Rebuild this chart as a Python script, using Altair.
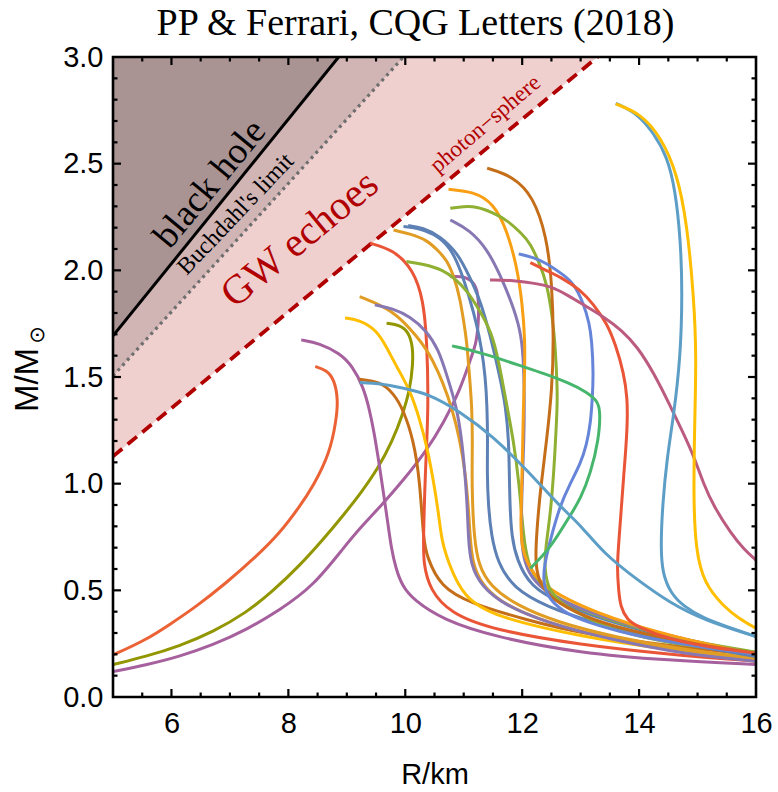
import altair as alt
import pandas as pd

# plot-area size in pixels
W, H = 643, 640

x_scale = alt.Scale(domain=[5, 16], nice=False, zero=False)
y_scale = alt.Scale(domain=[0, 3], nice=False, zero=False)

# ---- compactness limits: end points (R/km, M/Msun) of each boundary line ----
bh_R = [5.0, 8.86]
bh_M = [1.693, 3.0]
bu_R = [5.0, 9.97]
bu_M = [1.505, 3.0]
ps_R = [5.0, 13.29]
ps_M = [1.128, 3.0]
top_M = [3.0, 3.0]

# ---- mass-radius curves (R in km, M in solar masses) ----
sqm1_R = [8.46, 8.65, 8.79, 8.85, 8.82, 8.71, 8.42, 8.19, 7.85, 7.45, 6.93, 6.42, 5.96, 5.56, 5.0]
sqm1_M = [1.549, 1.533, 1.486, 1.392, 1.299, 1.143, 0.986, 0.892, 0.767, 0.658, 0.533, 0.423, 0.338, 0.267, 0.197]

sqm2_R = [9.68, 9.91, 10.06, 10.13, 10.13, 10.08, 9.95, 9.78, 9.53, 9.25, 8.95, 8.6, 8.19, 7.73, 7.28, 6.71, 6.13, 5.56, 5.0]
sqm2_M = [1.752, 1.744, 1.71, 1.64, 1.56, 1.44, 1.32, 1.2, 1.07, 0.96, 0.855, 0.74, 0.615, 0.495, 0.395, 0.305, 0.238, 0.19, 0.152]

sqm3_R = [10.77, 10.99, 11.17, 11.25, 11.26, 11.22, 11.11, 10.94, 10.65, 10.37, 9.97, 9.57, 9.22, 8.99, 8.42, 7.85, 7.28, 6.71, 6.13, 5.56, 5.0]
sqm3_M = [1.970, 1.974, 1.947, 1.893, 1.783, 1.658, 1.58, 1.44, 1.283, 1.158, 1.017, 0.892, 0.79, 0.715, 0.517, 0.408, 0.314, 0.244, 0.189, 0.15, 0.119]

pu1_R = [8.22, 8.53, 8.88, 9.10, 9.28, 9.39, 9.46, 9.55, 9.63, 9.71, 9.76, 9.84, 9.95, 10.14, 10.65, 11.51, 13.0, 14.5, 16.0]
pu1_M = [1.674, 1.658, 1.611, 1.549, 1.455, 1.345, 1.25, 1.1, 0.95, 0.8, 0.7, 0.6, 0.52, 0.455, 0.361, 0.283, 0.205, 0.172, 0.152]

ye1_R = [8.97, 9.22, 9.51, 9.68, 9.85, 10.08, 10.25, 10.37, 10.48, 10.57, 10.62, 10.74, 10.99, 11.51, 13.0, 14.5, 16.0]
ye1_M = [1.777, 1.767, 1.72, 1.64, 1.549, 1.44, 1.299, 1.174, 1.017, 0.861, 0.736, 0.627, 0.47, 0.377, 0.283, 0.22, 0.18]

re1_R = [9.40, 9.80, 10.14, 10.31, 10.37, 10.40, 10.34, 10.31, 10.31, 10.42, 10.77, 11.51, 13.0, 14.5, 16.0]
re1_M = [2.127, 2.096, 2.002, 1.861, 1.674, 1.361, 1.049, 0.736, 0.627, 0.502, 0.392, 0.314, 0.244, 0.2, 0.168]

br1_R = [9.22, 9.57, 9.80, 9.97, 10.14, 10.25, 10.31, 10.37, 10.60, 11.11, 12.08, 13.0, 14.5, 16.0]
br1_M = [1.489, 1.478, 1.424, 1.345, 1.205, 1.017, 0.736, 0.658, 0.517, 0.439, 0.361, 0.298, 0.24, 0.197]

or1_R = [9.22, 9.80, 10.2, 10.45, 10.82, 11.05, 11.11, 11.15, 11.3, 11.6, 12.2, 13.2, 14.6, 16.0]
or1_M = [1.877, 1.814, 1.69, 1.6, 1.361, 1.049, 0.736, 0.63, 0.53, 0.45, 0.37, 0.29, 0.225, 0.178]

pu2_R = [9.48, 9.8, 10.08, 10.35, 10.57, 10.72, 10.88, 10.97, 11.02, 11.06, 11.08, 11.12, 11.3, 11.7, 12.4, 13.5, 14.8, 16.0]
pu2_M = [1.838, 1.82, 1.783, 1.72, 1.63, 1.5, 1.36, 1.2, 1.05, 0.9, 0.74, 0.62, 0.52, 0.43, 0.35, 0.27, 0.2, 0.168]

or2_R = [9.80, 10.1, 10.37, 10.57, 10.71, 10.85, 10.94, 11.0, 11.05, 11.1, 11.14, 11.15, 11.14, 11.15, 11.18, 11.25, 11.45, 11.9, 12.6, 13.6, 14.8, 16.0]
or2_M = [2.189, 2.17, 2.142, 2.09, 2.049, 1.96, 1.861, 1.76, 1.674, 1.5, 1.361, 1.2, 1.049, 0.9, 0.75, 0.62, 0.52, 0.43, 0.35, 0.28, 0.22, 0.182]

bl1_R = [9.97, 10.2, 10.48, 10.77, 10.95, 11.11, 11.22, 11.31, 11.37, 11.40, 11.41, 11.40, 11.42, 11.47, 11.58, 11.85, 12.42, 13.2, 14.5, 16.0]
bl1_M = [2.205, 2.2, 2.174, 2.111, 2.0, 1.861, 1.75, 1.627, 1.5, 1.361, 1.2, 1.049, 0.9, 0.76, 0.63, 0.51, 0.423, 0.35, 0.26, 0.19]

bl2_R = [10.05, 10.3, 10.6, 10.9, 11.1, 11.28, 11.45, 11.62, 11.72, 11.77, 11.78, 11.79, 11.82, 11.91, 12.14, 12.65, 13.4, 14.6, 16.0]
bl2_M = [2.21, 2.2, 2.16, 2.08, 1.97, 1.861, 1.7, 1.5, 1.361, 1.2, 1.049, 0.9, 0.75, 0.642, 0.517, 0.439, 0.36, 0.27, 0.2]

gr1_R = [10.02, 10.3, 10.65, 10.85, 11.05, 11.3, 11.51, 11.65, 11.74, 11.85, 11.95, 12.02, 12.1, 12.3, 12.8, 13.6, 14.7, 16.0]
gr1_M = [2.041, 2.03, 2.002, 1.96, 1.908, 1.8, 1.689, 1.5, 1.361, 1.205, 1.0, 0.752, 0.62, 0.52, 0.43, 0.35, 0.27, 0.21]

pu3_R = [10.77, 11.1, 11.4, 11.62, 11.82, 11.97, 12.02, 12.04, 12.03, 12.0, 11.98, 12.0, 12.1, 12.35, 12.9, 13.8, 14.9, 16.0]
pu3_M = [2.236, 2.19, 2.1, 1.98, 1.85, 1.72, 1.6, 1.4, 1.2, 1.0, 0.8, 0.68, 0.58, 0.5, 0.42, 0.34, 0.26, 0.2]

or3_R = [10.74, 11.17, 11.51, 11.74, 11.91, 12.0, 12.05, 12.04, 12.02, 12.0, 11.97, 12.0, 12.08, 12.31, 12.77, 13.5, 14.6, 16.0]
or3_M = [2.38, 2.369, 2.315, 2.189, 2.017, 1.85, 1.674, 1.5, 1.361, 1.049, 0.8, 0.7, 0.627, 0.533, 0.455, 0.37, 0.28, 0.2]

gr2_R = [10.77, 11.0, 11.22, 11.5, 11.74, 12.0, 12.14, 12.3, 12.42, 12.52, 12.57, 12.60, 12.60, 12.57, 12.54, 12.48, 12.40, 12.38, 12.45, 12.7, 13.0, 13.39, 14.0, 14.54, 15.3, 16.0]
gr2_M = [2.291, 2.3, 2.299, 2.27, 2.236, 2.17, 2.127, 2.03, 1.94, 1.78, 1.627, 1.45, 1.361, 1.2, 1.049, 0.85, 0.7, 0.6, 0.5, 0.43, 0.39, 0.33, 0.285, 0.252, 0.228, 0.21]

br2_R = [11.40, 11.85, 12.19, 12.42, 12.51, 12.54, 12.51, 12.42, 12.31, 12.25, 12.22, 12.3, 12.6, 13.2, 14.0, 15.0, 16.0]
br2_M = [2.479, 2.44, 2.346, 2.158, 1.94, 1.674, 1.44, 1.205, 0.97, 0.78, 0.627, 0.52, 0.44, 0.36, 0.3, 0.245, 0.205]

bl3_R = [11.94, 12.2, 12.42, 12.7, 12.88, 13.05, 13.15, 13.19, 13.22, 13.2, 13.17, 13.1, 13.0, 12.82, 12.65, 12.48, 12.38, 12.36, 12.42, 12.7, 13.0, 13.6, 14.5, 16.0]
bl3_M = [2.077, 2.06, 2.033, 1.98, 1.94, 1.846, 1.75, 1.674, 1.517, 1.4, 1.283, 1.18, 1.096, 1.0, 0.9, 0.736, 0.62, 0.549, 0.47, 0.4, 0.361, 0.31, 0.255, 0.2]

re2_R = [12.14, 12.4, 12.65, 13.0, 13.22, 13.45, 13.6, 13.74, 13.8, 13.80, 13.77, 13.74, 13.70, 13.66, 13.62, 13.65, 13.68, 13.8, 13.97, 14.54, 15.3, 16.0]
re2_M = [2.036, 2.0, 1.97, 1.908, 1.84, 1.752, 1.65, 1.517, 1.4, 1.283, 1.15, 1.049, 0.9, 0.75, 0.611, 0.5, 0.423, 0.36, 0.33, 0.267, 0.23, 0.205]

gr3_R = [10.8, 11.2, 11.51, 12.0, 12.37, 12.82, 13.1, 13.28, 13.34, 13.31, 13.17, 13.0, 12.82, 12.65, 12.45, 12.14]
gr3_M = [1.646, 1.62, 1.595, 1.55, 1.517, 1.47, 1.43, 1.39, 1.345, 1.205, 1.049, 0.93, 0.85, 0.775, 0.69, 0.603]

ro1_R = [11.45, 11.8, 12.19, 12.5, 12.8, 13.1, 13.39, 13.7, 13.97, 14.25, 14.54, 14.75, 14.94, 15.1, 15.28, 15.57, 15.8, 16.0]
ro1_M = [1.955, 1.955, 1.94, 1.925, 1.88, 1.83, 1.783, 1.72, 1.642, 1.52, 1.361, 1.24, 1.127, 1.0, 0.892, 0.767, 0.69, 0.642]

lb2_R = [13.6, 13.97, 14.25, 14.48, 14.62, 14.71, 14.74, 14.71, 14.59, 14.48, 14.40, 14.37, 14.40, 14.54, 14.77, 15.1, 15.5, 16.0]
lb2_M = [2.783, 2.736, 2.643, 2.533, 2.377, 2.142, 1.9, 1.595, 1.314, 1.127, 0.9, 0.7, 0.58, 0.486, 0.423, 0.37, 0.33, 0.283]

ye2_R = [13.6, 14.02, 14.37, 14.65, 14.82, 14.94, 14.98, 14.95, 14.93, 14.97, 15.11, 15.45, 15.7, 16.0]
ye2_M = [2.78, 2.736, 2.627, 2.455, 2.221, 1.861, 1.595, 1.283, 0.924, 0.689, 0.533, 0.423, 0.37, 0.322]

lb1_R = [9.22, 9.57, 9.97, 10.37, 10.94, 11.51, 12.08, 12.65, 13.0, 13.39, 13.97, 14.54, 15.11, 16.0]
lb1_M = [1.474, 1.47, 1.447, 1.424, 1.338, 1.22, 1.064, 0.892, 0.806, 0.674, 0.549, 0.439, 0.361, 0.283]

curves = [
    ("sqm1", "#EB6235", sqm1_R, sqm1_M),
    ("sqm2", "#929600", sqm2_R, sqm2_M),
    ("sqm3", "#A5609D", sqm3_R, sqm3_M),
    ("pu1", "#A5609D", pu1_R, pu1_M),
    ("br1", "#C56E1A", br1_R, br1_M),
    ("re1", "#E95536", re1_R, re1_M),
    ("ye1", "#FFBF00", ye1_R, ye1_M),
    ("or1", "#E19C24", or1_R, or1_M),
    ("pu2", "#8778B3", pu2_R, pu2_M),
    ("or2", "#E19C24", or2_R, or2_M),
    ("bl1", "#5E81B5", bl1_R, bl1_M),
    ("bl2", "#5E81B5", bl2_R, bl2_M),
    ("gr1", "#8FB032", gr1_R, gr1_M),
    ("pu3", "#8778B3", pu3_R, pu3_M),
    ("or3", "#F89F13", or3_R, or3_M),
    ("gr2", "#8FB032", gr2_R, gr2_M),
    ("br2", "#C56E1A", br2_R, br2_M),
    ("bl3", "#6685D9", bl3_R, bl3_M),
    ("re2", "#E95536", re2_R, re2_M),
    ("gr3", "#47B66D", gr3_R, gr3_M),
    ("ro1", "#BC5B80", ro1_R, ro1_M),
    ("lb2", "#5D9EC7", lb2_R, lb2_M),
    ("ye2", "#FFBF00", ye2_R, ye2_M),
    ("lb1", "#5D9EC7", lb1_R, lb1_M),
]

# ---- tick positions ----
x_major = [6, 8, 10, 12, 14]
x_minor = [5.5, 6.5, 7, 7.5, 8.5, 9, 9.5, 10.5, 11, 11.5, 12.5, 13, 13.5, 14.5, 15, 15.5]
y_major = [0.5, 1.0, 1.5, 2.0, 2.5]
y_minor = [0.1, 0.2, 0.3, 0.4, 0.6, 0.7, 0.8, 0.9, 1.1, 1.2, 1.3, 1.4, 1.6, 1.7, 1.8, 1.9,
           2.1, 2.2, 2.3, 2.4, 2.6, 2.7, 2.8, 2.9]
x_labels = [6, 8, 10, 12, 14, 16]
y_labels = [0.0, 0.5, 1.0, 1.5, 2.0, 2.5, 3.0]

# ---- annotations (centre position in data units) ----
notes = [
    # text, R, M, angle, size, colour
    ("black hole", 6.66, 2.405, 309.5, 37, "black"),
    ("Buchdahl's limit", 7.10, 2.263, 313.5, 24, "black"),
    ("GW echoes", 8.20, 2.145, 320.5, 41, "#B00000"),
    ("photon\u2212sphere", 11.37, 2.686, 319.5, 23, "#B00000"),
]

TITLE = "PP & Ferrari, CQG Letters (2018)"
SERIF = "Liberation Serif"
SANS = "Liberation Sans"

x_axis = alt.Axis(values=x_labels, title="R/km", ticks=False, domain=False, grid=False,
                  labelFlush=False, labelFont=SANS, labelFontSize=29, labelColor="black",
                  labelPadding=12, titleFont=SANS, titleFontSize=29,
                  titleFontWeight="normal", titleColor="black", titlePadding=22)
y_axis = alt.Axis(values=y_labels, format=".1f", title=None, ticks=False, domain=False,
                  grid=False, labelFlush=False, labelFont=SANS, labelFontSize=29,
                  labelColor="black", labelPadding=10)


def X():
    return alt.X("R:Q", scale=x_scale, axis=x_axis)


def Y():
    return alt.Y("M:Q", scale=y_scale, axis=y_axis)


def region(r, m, color):
    df = pd.DataFrame({"R": r, "M": m, "top": top_M})
    return alt.Chart(df).mark_area(color=color, opacity=1, clip=True).encode(
        x=X(), y=Y(), y2="top:Q"
    )


def boundary(r, m, color, width, dash):
    df = pd.DataFrame({"R": r, "M": m})
    kw = dict(color=color, strokeWidth=width, clip=True)
    if dash:
        kw["strokeDash"] = dash
    return alt.Chart(df).mark_line(**kw).encode(x=X(), y=Y())


layers = [
    region(ps_R, ps_M, "#F0CFCF"),
    region(bu_R, bu_M, "#D1B5B5"),
    region(bh_R, bh_M, "#A99393"),
    boundary(bu_R, bu_M, "#6E6E6E", 3.2, [3, 4]),
    boundary(ps_R, ps_M, "#B00000", 3.8, [12, 7]),
    boundary(bh_R, bh_M, "black", 3, None),
]

rows = []
for name, col, rr, mm in curves:
    for i, (r, m) in enumerate(zip(rr, mm)):
        rows.append({"name": name, "i": i, "R": r, "M": m})
curve_df = pd.DataFrame(rows)
names = [c[0] for c in curves]
colors = [c[1] for c in curves]

curve_layer = alt.Chart(curve_df).mark_line(
    strokeWidth=3, interpolate="basis", clip=True
).encode(
    x=X(),
    y=Y(),
    color=alt.Color("name:N", scale=alt.Scale(domain=names, range=colors), legend=None),
    detail="name:N",
    order="i:Q",
)
layers.append(curve_layer)

for text, r, m, ang, size, col in notes:
    df = pd.DataFrame({"R": [r], "M": [m], "t": [text]})
    layers.append(
        alt.Chart(df).mark_text(font=SERIF, fontSize=size, angle=ang, color=col,
                                align="center", baseline="middle").encode(
            x=X(), y=Y(), text="t:N")
    )


# inward ticks on all four sides
def xticks(vals, length):
    df = pd.DataFrame({"R": vals})
    bottom = alt.Chart(df).mark_rule(color="black", strokeWidth=2.2).encode(
        x=X(), y=alt.value(H), y2=alt.value(H - length))
    top = alt.Chart(df).mark_rule(color="black", strokeWidth=2.2).encode(
        x=X(), y=alt.value(0), y2=alt.value(length))
    return [bottom, top]


def yticks(vals, length):
    df = pd.DataFrame({"M": vals})
    left = alt.Chart(df).mark_rule(color="black", strokeWidth=2.2).encode(
        y=Y(), x=alt.value(0), x2=alt.value(length))
    right = alt.Chart(df).mark_rule(color="black", strokeWidth=2.2).encode(
        y=Y(), x=alt.value(W), x2=alt.value(W - length))
    return [left, right]


layers += xticks(x_major, 8) + xticks(x_minor, 4.5) + yticks(y_major, 8) + yticks(y_minor, 4.5)

# frame
frame = alt.Chart(pd.DataFrame({"k": [0]})).mark_rect(
    filled=False, stroke="black", strokeWidth=2.6
).encode(x=alt.value(0), x2=alt.value(W), y=alt.value(0), y2=alt.value(H))
layers.append(frame)

# y-axis title with subscript
ytitle = alt.Chart(pd.DataFrame({"t": ["M/M"]})).mark_text(
    font=SANS, fontSize=33, angle=270, align="center", baseline="middle", color="black"
).encode(x=alt.value(-85), y=alt.value(323), text="t:N")
ysub = alt.Chart(pd.DataFrame({"t": ["\u2299"]})).mark_text(
    font="DejaVu Sans", fontSize=21, angle=270, align="center", baseline="middle", color="black"
).encode(x=alt.value(-75), y=alt.value(278), text="t:N")
layers += [ytitle, ysub]

# chart title drawn above the frame
title = alt.Chart(pd.DataFrame({"t": [TITLE]})).mark_text(
    font=SERIF, fontSize=38, align="center", baseline="alphabetic", color="black"
).encode(x=alt.value(W / 2 - 19), y=alt.value(-22), text="t:N")
layers.append(title)

chart = alt.layer(*layers).properties(
    width=W,
    height=H,
    padding={"left": 113, "top": 57, "right": 22, "bottom": 95},
    autosize=alt.AutoSizeParams(type="none"),
).configure_view(strokeWidth=0).configure(background="white")

chart.save("out.html", embed_options={"renderer": "svg", "actions": False})
